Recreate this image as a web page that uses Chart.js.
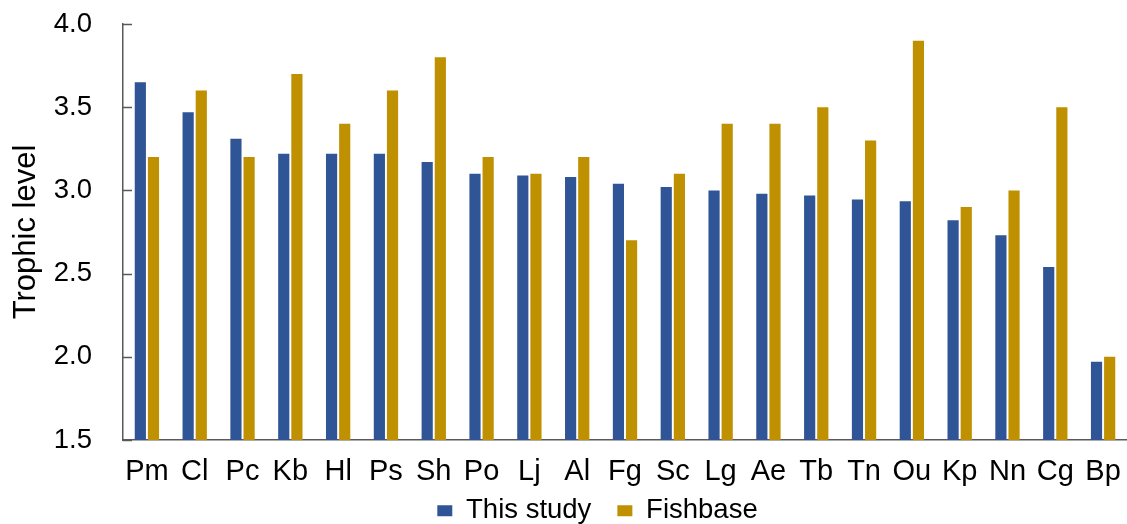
<!DOCTYPE html>
<html>
<head>
<meta charset="utf-8">
<script src="https://cdn.jsdelivr.net/npm/chart.js@4.4.1/dist/chart.umd.min.js"></script>
<style>
  html, body { margin:0; padding:0; background:#ffffff; }
  #wrap { width:1127px; height:524px; }
</style>
</head>
<body>
<div id="wrap"><canvas id="tlChart"></canvas></div>
<script>
const species = ["Pm","Cl","Pc","Kb","Hl","Ps","Sh","Po","Lj","Al","Fg","Sc","Lg","Ae","Tb","Tn","Ou","Kp","Nn","Cg","Bp"];
const thisStudy = [3.65,3.47,3.31,3.22,3.22,3.22,3.17,3.10,3.09,3.08,3.04,3.02,3.00,2.98,2.97,2.945,2.935,2.82,2.73,2.54,1.97];
const fishbase = [3.20,3.60,3.20,3.70,3.40,3.60,3.80,3.20,3.10,3.20,2.70,3.10,3.40,3.40,3.50,3.30,3.90,2.90,3.00,3.50,2.00];
const yTicks = [1.5,2.0,2.5,3.0,3.5,4.0];

const axisColor = "#595959";
const fontFam = "'Liberation Sans', Arial, sans-serif";

// short tick marks pointing into the plot, like the original
const innerTicks = {
    id: "innerTicks",
    afterDraw(chart){
        const y = chart.scales.y;
        const ctx = chart.ctx;
        ctx.save();
        ctx.strokeStyle = axisColor;
        ctx.lineWidth = 1.5;
        yTicks.forEach(v => {
            const py = Math.round(y.getPixelForValue(v)) + 0.5;
            ctx.beginPath();
            ctx.moveTo(y.right, py);
            ctx.lineTo(y.right + 9, py);
            ctx.stroke();
        });
        ctx.restore();
    }
};

// legend takes little room in the layout, then gets moved into place
const legendPlace = {
    id: "legendPlace",
    beforeInit(chart){
        const lg = chart.legend;
        if(lg){
            const fit = lg.fit;
            lg.fit = function(){ fit.call(this); this.height = 34; };
        }
    },
    afterLayout(chart){
        const lg = chart.legend;
        if(lg){ lg.left = 68; lg.top = 471; lg.bottom = 524; }
    }
};

new Chart(document.getElementById("tlChart"), {
    type: "bar",
    data: {
        labels: species,
        datasets: [
            { label:"This study", data: thisStudy, backgroundColor:"#2f5597", borderWidth:0,
              categoryPercentage:0.55, barPercentage:0.85 },
            { label:"Fishbase", data: fishbase, backgroundColor:"#bf9000", borderWidth:0,
              categoryPercentage:0.55, barPercentage:0.85 }
        ]
    },
    options: {
        responsive: true,
        maintainAspectRatio: false,
        animation: false,
        layout: { padding: { top: 24, right: 0, left: 0, bottom: 0 } },
        plugins: {
            tooltip: { enabled:false },
            legend: {
                position: "bottom",
                labels: {
                    color:"#000000",
                    font:{ family: fontFam, size: 27.5 },
                    boxWidth: 15, boxHeight: 11, padding: 26
                }
            }
        },
        scales: {
            x: {
                grid: { display:false },
                border: { display:true, color: axisColor, width:1.5 },
                ticks: { color:"#000000", font:{ family: fontFam, size: 29 }, padding: 7, maxRotation:0, autoSkip:false },
                afterFit(s){ s.height = 50; s.paddingLeft = 0; s.paddingRight = 0; }
            },
            y: {
                min: 1.5, max: 4.0,
                grid: { display:false },
                border: { display:true, color: axisColor, width:1.5 },
                afterBuildTicks(scale){ scale.ticks = yTicks.map(v => ({ value: v })); },
                ticks: { color:"#000000", font:{ family: fontFam, size: 27.5 }, padding: 23,
                         callback: v => Number(v).toFixed(1) },
                title: { display:true, text:"Trophic level", color:"#000000",
                         font:{ family: fontFam, size: 31 }, padding: 8 },
                afterFit(s){ s.width = 123; s.paddingTop = 0; s.paddingBottom = 0; }
            }
        }
    },
    plugins: [innerTicks, legendPlace]
});
</script>
</body>
</html>
